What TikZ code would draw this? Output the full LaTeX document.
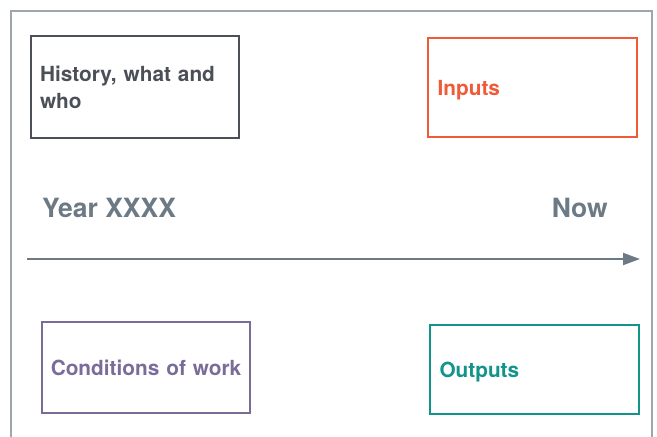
\documentclass[tikz,border=0pt]{standalone}
\usepackage{fontspec}
\setmainfont{TeX Gyre Heros}
\usetikzlibrary{arrows.meta}
\definecolor{framegray}{HTML}{9EA6AE}
\definecolor{histgray}{HTML}{4B4F58}
\definecolor{inred}{HTML}{F15A38}
\definecolor{condpurple}{HTML}{7A6C99}
\definecolor{outteal}{HTML}{12948A}
\definecolor{timegray}{HTML}{6C7A86}

\begin{document}
\begin{tikzpicture}[x=1pt,y=-1pt]
    % Setup the styles for the boxes
        \tikzset{box style/.style={draw,
                                   rectangle,
                                   line width=2.4pt,
                                   inner xsep=9pt,
                                   text width=190,
                                   font=\bfseries\fontsize{20.8}{27}\selectfont},
                 one line/.style={text depth=0pt, align=left},
                 time style/.style={text=timegray,
                                    inner sep=0pt,
                                    font=\bfseries\fontsize{26.5}{30}\selectfont}}
        \useasboundingbox (0,0) rectangle (657,437);
        % Draw the frame
        \draw[framegray, line width=1.4pt] (11,437) -- (11,11) -- (652,11) -- (652,437);
        % Draw the boxes
        \node[box style, draw=histgray, text=histgray, minimum width=208, minimum height=102,
              align=left] at (135,87) (history) {History, what and who};
        \node[box style, one line, draw=inred, text=inred, minimum width=209,
              minimum height=99] at (532.5,87.5) (inputs) {Inputs};
        \node[box style, one line, draw=condpurple, text=condpurple, minimum width=208,
              minimum height=91, inner xsep=2pt, text width=200,
              align=center] at (146,367.5) (conditions) {Conditions of work};
        \node[box style, one line, draw=outteal, text=outteal, minimum width=209,
              minimum height=89] at (534.5,369.5) (outputs) {Outputs};
        % Draw the timeline
        \node[time style, anchor=base west] at (42,217) (year) {Year XXXX};
        \node[time style, anchor=base east] at (608,217) (now) {Now};
        \coordinate (tstart) at (27,259);
        \coordinate (tend) at (640,259);
        \draw[timegray, line width=2pt, -{Triangle[length=17pt,width=12pt]}] (tstart) -- (tend);
\end{tikzpicture}
\end{document}
